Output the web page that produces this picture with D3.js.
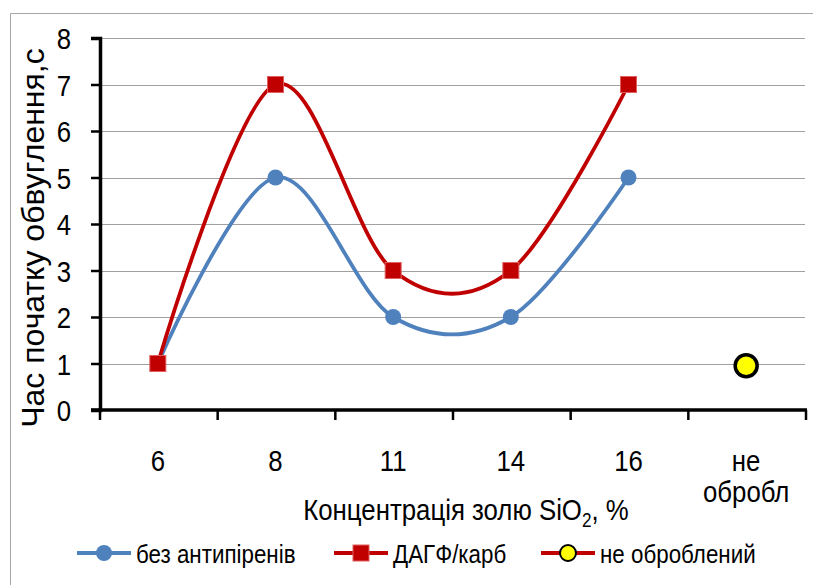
<!DOCTYPE html>
<html>
<head>
<meta charset="utf-8">
<script src="https://cdn.jsdelivr.net/npm/d3@7"></script>
<style>
  body { margin: 0; background: #fff; }
  svg text { font-family: "Liberation Sans", Arial, sans-serif; fill: #000; }
</style>
</head>
<body>
<div id="chart"></div>
<script>
var categories = ["6", "8", "11", "14", "16", "не обробл"];
var bezAntipireniv = [1, 5, 2, 2, 5];
var dagfKarb = [1, 7, 3, 3, 7];
var neObrobleniy = [0.95];
var yTicks = [0, 1, 2, 3, 4, 5, 6, 7, 8];

var width = 813, height = 585;
var sx = 0.86;   // the source font is a narrow one
var svg = d3.select("#chart").append("svg")
    .attr("width", width)
    .attr("height", height);

// condensed text helper
function label(parent, tx, ty, size, anchor, str) {
    var g = parent.append("g")
        .attr("transform", "translate(" + tx + "," + ty + ") scale(" + sx + ",1)");
    return g.append("text")
        .attr("text-anchor", anchor)
        .style("font-size", size + "px")
        .text(str);
}

// chart border (only left and top show in the crop)
svg.append("path")
    .attr("d", "M10.5,585V13.5H813")
    .attr("fill", "none")
    .attr("stroke", "#a6a6a6")
    .attr("stroke-width", 1);

var x = d3.scaleBand().domain(categories).range([99, 805]);
var y = d3.scaleLinear().domain([0, 8]).range([410, 38]);

var cx = function(i){ return x(categories[i]) + x.bandwidth() / 2; };

// gridlines
svg.append("g").selectAll("line")
    .data(yTicks.slice(1))
    .enter().append("line")
    .attr("x1", 99).attr("x2", 805)
    .attr("y1", function(d){ return Math.round(y(d)) + 0.5; })
    .attr("y2", function(d){ return Math.round(y(d)) + 0.5; })
    .attr("stroke", "#a0a0a0")
    .attr("stroke-width", 1.2);

// y axis
var yAxis = svg.append("g")
    .attr("transform", "translate(100,0)")
    .call(d3.axisLeft(y).tickValues(yTicks).tickSize(9).tickFormat(""));
yAxis.select(".domain").attr("stroke", "#000").attr("stroke-width", 3.5);
yAxis.selectAll(".tick line").attr("stroke", "#000").attr("stroke-width", 2.5);
yTicks.forEach(function(t){
    label(svg, 71, y(t) + 11, 30, "end", t);
});

// x axis, ticks on band boundaries
var xAxis = svg.append("g")
    .attr("transform", "translate(0,410)");
xAxis.append("line")
    .attr("x1", 91).attr("x2", 807)
    .attr("stroke", "#000").attr("stroke-width", 3.5);
xAxis.selectAll(".bt")
    .data(categories.concat([null]))
    .enter().append("line")
    .attr("class", "bt")
    .attr("x1", function(d, i){ return 100 + i * x.step(); })
    .attr("x2", function(d, i){ return 100 + i * x.step(); })
    .attr("y1", 0).attr("y2", 10)
    .attr("stroke", "#000").attr("stroke-width", 2.5);
categories.forEach(function(c){
    var parts = c.split(" ");
    parts.forEach(function(p, k){
        label(svg, x(c) + x.bandwidth() / 2, 471 + k * 31, 30, "middle", p);
    });
});

// axis titles
var xt = label(svg, 466, 520, 30, "middle", null);
xt.append("tspan").text("Концентрація золю SiO");
xt.append("tspan").attr("dy", 7).style("font-size", "20px").text("2");
xt.append("tspan").attr("dy", -7).text(", %");

svg.append("text")
    .attr("transform", "translate(44,238) rotate(-90)")
    .attr("text-anchor", "middle")
    .style("font-size", "32px")
    .text("Час початку обвуглення,с");

// lines
var line = d3.line()
    .x(function(d, i){ return cx(i); })
    .y(function(d){ return y(d); })
    .curve(d3.curveCardinal.tension(0));

svg.append("path")
    .datum(bezAntipireniv)
    .attr("d", line)
    .attr("fill", "none")
    .attr("stroke", "#4f81bd")
    .attr("stroke-width", 3.8);

svg.append("path")
    .datum(dagfKarb)
    .attr("d", line)
    .attr("fill", "none")
    .attr("stroke", "#c00000")
    .attr("stroke-width", 3.8);

// markers
svg.append("g").selectAll("circle")
    .data(bezAntipireniv)
    .enter().append("circle")
    .attr("cx", function(d, i){ return cx(i); })
    .attr("cy", function(d){ return y(d); })
    .attr("r", 8)
    .attr("fill", "#4f81bd");

svg.append("g").selectAll("rect")
    .data(dagfKarb)
    .enter().append("rect")
    .attr("x", function(d, i){ return cx(i) - 8; })
    .attr("y", function(d){ return y(d) - 8; })
    .attr("width", 16).attr("height", 16)
    .attr("fill", "#c00000")
    .attr("stroke", "#e06060")
    .attr("stroke-width", 1);

svg.append("g").selectAll("circle")
    .data(neObrobleniy)
    .enter().append("circle")
    .attr("cx", cx(5))
    .attr("cy", function(d){ return y(d); })
    .attr("r", 11)
    .attr("fill", "#ffff00")
    .attr("stroke", "#000")
    .attr("stroke-width", 3.5);

// legend
var legendItems = [
    { name: "без антипіренів", color: "#4f81bd", mark: "circle", x0: 77 },
    { name: "ДАГФ/карб", color: "#c00000", mark: "square", x0: 334 },
    { name: "не оброблений", color: "#c00000", mark: "yellow", x0: 541 }
];
var lg = svg.append("g").attr("transform", "translate(0,553)");
legendItems.forEach(function(it){
    var g = lg.append("g").attr("transform", "translate(" + it.x0 + ",0)");
    g.append("line").attr("x1", 0).attr("x2", 54)
        .attr("stroke", it.color).attr("stroke-width", 4);
    if (it.mark === "circle") {
        g.append("circle").attr("cx", 27).attr("r", 8).attr("fill", it.color);
    } else if (it.mark === "square") {
        g.append("rect").attr("x", 19).attr("y", -8).attr("width", 16).attr("height", 16)
            .attr("fill", it.color).attr("stroke", "#e06060");
    } else {
        g.append("circle").attr("cx", 27).attr("r", 8)
            .attr("fill", "#ffff00").attr("stroke", "#000").attr("stroke-width", 2);
    }
    label(g, 59, 10, 26, "start", it.name);
});
</script>
</body>
</html>
